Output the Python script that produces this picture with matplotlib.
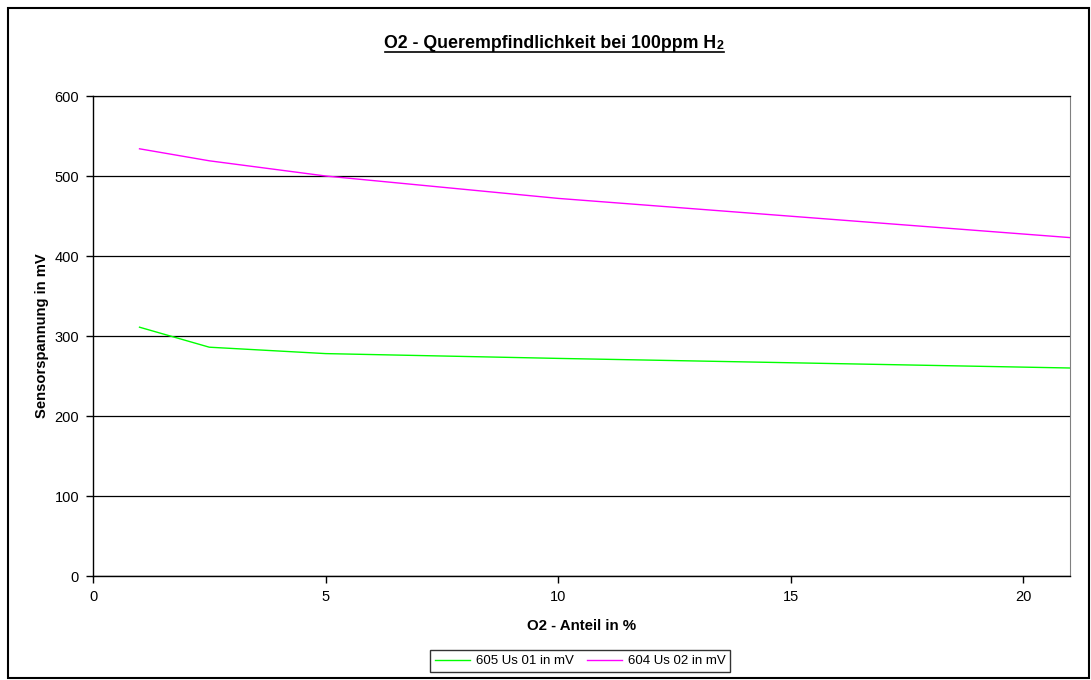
import matplotlib
matplotlib.use("Agg")
import matplotlib.pyplot as plt
from matplotlib.patches import Rectangle
from matplotlib.lines import Line2D

plt.rcParams['font.family'] = ['Liberation Sans', 'DejaVu Sans']

# O2 share in % and sensor voltages in mV
o2_percent = [1, 2.5, 5, 10, 21]
us01_mv = [311, 286, 278, 272, 260]
us02_mv = [534, 519, 500, 472, 423]

series_labels = ["605 Us 01 in mV", "604 Us 02 in mV"]
y_ticks = [0, 100, 200, 300, 400, 500, 600]
x_ticks = [0, 5, 10, 15, 20]

W, H = 1091, 680
fig = plt.figure(figsize=(W / 100, H / 100), dpi=100)

# outer chart frame
fig.patches.append(Rectangle((8 / W, 2 / H), (W - 10) / W, (H - 10) / H,
                             transform=fig.transFigure, fill=False,
                             edgecolor='black', linewidth=1.5))

ax = fig.add_axes([93 / W, (H - 576) / H, (1070 - 93) / W, (576 - 96) / H])
ax.plot(o2_percent, us01_mv, color='#00ff00', linewidth=1.0, label=series_labels[0])
ax.plot(o2_percent, us02_mv, color='#ff00ff', linewidth=1.0, label=series_labels[1])

ax.set_xlim(0, 21)
ax.set_ylim(0, 600)
ax.set_xticks(x_ticks)
ax.set_yticks(y_ticks)
ax.tick_params(direction='out', length=5, width=1, labelsize=10.5, color='black', pad=5)
ax.yaxis.grid(True, color='black', linewidth=0.9)
ax.set_axisbelow(True)
for side in ('left', 'bottom'):
    ax.spines[side].set_color('black')
    ax.spines[side].set_linewidth(1.0)
ax.spines['right'].set_color('#808080')
ax.spines['top'].set_color('black')
ax.spines['top'].set_linewidth(0.9)

ax.set_xlabel("O2 - Anteil in %", fontsize=10.8, fontweight='bold', labelpad=11)
ax.set_ylabel("Sensorspannung in mV", fontsize=10.6, fontweight='bold', labelpad=3.8)

# title with subscript and underline
fig.canvas.draw()
renderer = fig.canvas.get_renderer()
main = fig.text(0, 0, "O2 - Querempfindlichkeit bei 100ppm H", fontsize=12.8,
                fontweight='bold', ha='left', va='baseline')
sub = fig.text(0, 0, "2", fontsize=9, fontweight='bold', ha='left', va='baseline')
bb_main = main.get_window_extent(renderer)
bb_sub = sub.get_window_extent(renderer)
total_w = bb_main.width + bb_sub.width
x0 = 554 - total_w / 2
base = H - 48
main.set_position((x0 / W, base / H))
sub.set_position(((x0 + bb_main.width) / W, (base - 1) / H))
fig.add_artist(Line2D([x0 / W, (x0 + total_w) / W], [(base - 4) / H, (base - 4) / H],
                      transform=fig.transFigure, color='black', linewidth=1.2))

leg = fig.legend(loc='center', bbox_to_anchor=(580 / W, (H - 661) / H), ncol=2,
                 fontsize=9.5, frameon=True, fancybox=False, edgecolor='black',
                 handlelength=2.7, handletextpad=0.4, columnspacing=1.0,
                 borderpad=0.35, borderaxespad=0)
leg.get_frame().set_linewidth(1.0)

fig.savefig("out.png", dpi=100)
